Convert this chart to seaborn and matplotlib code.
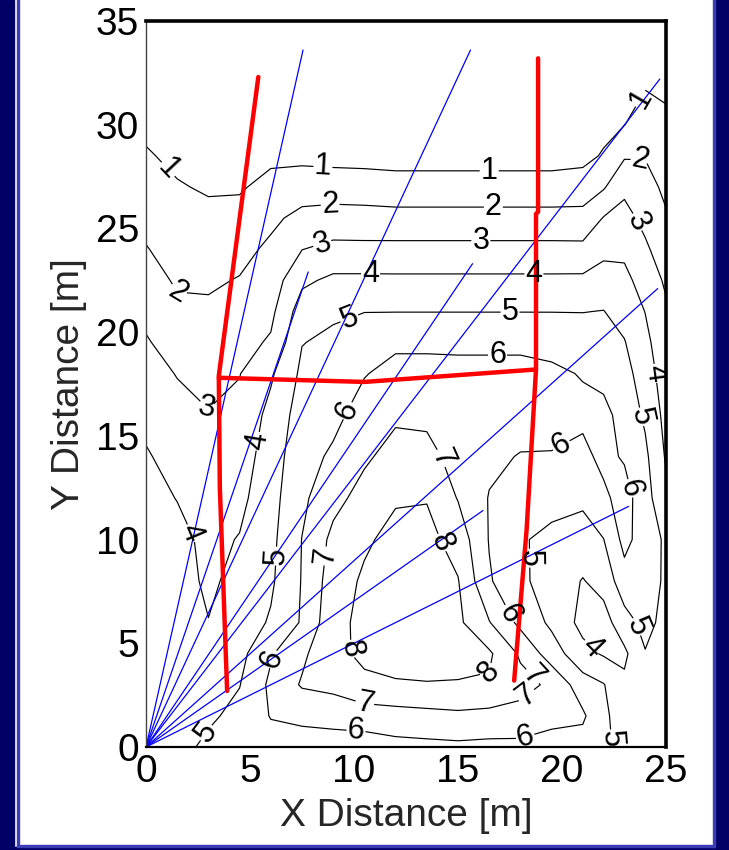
import numpy as np
import pandas as pd
import matplotlib
matplotlib.use('Agg')
import matplotlib.pyplot as plt
import seaborn as sns
from matplotlib.patches import Rectangle

sns.set_style('white')
plt.rcParams['font.family'] = ['Liberation Sans', 'DejaVu Sans']

# ---------------- data ----------------
grid_x = [0, 1.5, 3, 4.5, 6, 7.5, 9, 10.5, 12, 13.5, 15, 16.5, 18, 19.5, 21, 22, 23, 24, 25]
grid_y = [0, 1.5, 3, 4.5, 6, 8, 10, 12, 14, 16, 18, 19.5, 21, 22.5, 24, 25.5, 27, 28.5, 30, 32, 35]

# measured field, one list per x column (bottom -> top)
col_00 = [4.5, 4.5, 4.5, 4.5, 4.5, 4.5, 4.45, 4.35, 4.1, 3.73, 3.36, 3.09, 2.76, 2.4, 2.05, 1.72, 1.4, 1.09, 0.8, 0.6, 0.4]
col_01 = [4.7, 4.55, 4.45, 4.4, 4.4, 4.35, 4.3, 3.97, 3.62, 3.3, 2.96, 2.58, 2.2, 1.88, 1.6, 1.34, 1.07, 0.8, 0.6, 0.45, 0.3]
col_02 = [5.2, 4.85, 4.6, 4.35, 4.02, 3.85, 3.75, 3.5, 3.3, 3.05, 2.7, 2.42, 2.15, 1.87, 1.54, 1.22, 0.9, 0.7, 0.55, 0.4, 0.3]
col_03 = [5.5, 5.25, 4.97, 4.7, 4.5, 4.25, 4.05, 3.75, 3.5, 3.23, 2.97, 2.66, 2.35, 2.05, 1.72, 1.3, 0.9, 0.7, 0.55, 0.4, 0.3]
col_04 = [5.6, 6.05, 6.2, 5.9, 5.1, 4.85, 4.75, 4.65, 4.5, 4.3, 3.85, 3.12, 2.76, 2.47, 2.18, 1.8, 1.29, 0.8, 0.6, 0.45, 0.3]
col_05 = [5.6, 6.2, 7.1, 6.8, 6.1, 6.05, 6.02, 5.8, 5.65, 5.45, 5.2, 4.97, 4.5, 3.8, 2.98, 2.27, 1.53, 0.75, 0.55, 0.4, 0.3]
col_06 = [5.6, 6.3, 7.3, 7.8, 7.7, 7.5, 7.25, 6.7, 6.15, 5.75, 5.4, 5.2, 4.85, 4.2, 3.25, 2.4, 1.5, 0.7, 0.5, 0.35, 0.25]
col_07 = [5.55, 6.45, 7.85, 8.15, 8.25, 8.15, 7.85, 7.35, 6.85, 6.4, 5.95, 5.55, 4.98, 4.2, 3.25, 2.35, 1.5, 0.65, 0.45, 0.35, 0.25]
col_08 = [5.7, 6.6, 7.9, 8.4, 8.5, 8.45, 8.3, 7.9, 7.35, 6.85, 6.3, 5.83, 4.98, 4.19, 3.26, 2.31, 1.43, 0.6, 0.4, 0.3, 0.2]
col_09 = [5.75, 6.7, 7.95, 8.4, 8.5, 8.45, 8.3, 7.95, 7.3, 6.8, 6.3, 5.83, 4.98, 4.19, 3.26, 2.31, 1.43, 0.6, 0.4, 0.3, 0.2]
col_10 = [5.8, 6.8, 7.95, 8.25, 8.2, 8.05, 7.6, 6.95, 6.65, 6.45, 6.25, 5.83, 4.98, 4.19, 3.26, 2.31, 1.43, 0.6, 0.4, 0.3, 0.2]
col_11 = [5.75, 6.7, 7.9, 8.15, 7.05, 6.1, 5.95, 5.95, 6.2, 6.4, 6.25, 5.83, 4.98, 4.19, 3.26, 2.31, 1.43, 0.6, 0.4, 0.3, 0.2]
col_12 = [5.75, 6.65, 7.35, 6.85, 5.75, 5.2, 5.1, 5.35, 5.95, 6.4, 6.25, 5.83, 4.98, 4.19, 3.26, 2.31, 1.43, 0.6, 0.4, 0.3, 0.2]
col_13 = [5.6, 6.3, 6.8, 5.5, 4.8, 4.55, 4.75, 5.35, 5.95, 6.3, 6.15, 5.75, 4.98, 4.19, 3.26, 2.31, 1.43, 0.6, 0.4, 0.3, 0.2]
col_14 = [5.6, 6.15, 5.45, 4.3, 3.7, 3.95, 4.55, 5.2, 5.75, 6.2, 5.95, 5.45, 4.98, 4.2, 3.25, 2.3, 1.5, 0.7, 0.45, 0.3, 0.2]
col_15 = [5.3, 5.2, 5.05, 3.9, 3.6, 4.35, 4.98, 5.8, 6.25, 6.3, 5.7, 5.4, 5.02, 4.5, 3.7, 3.05, 1.9, 1.1, 0.7, 0.45, 0.3]
col_16 = [4.55, 4.5, 4.2, 3.8, 4.6, 5.6, 6.3, 6.4, 5.9, 5.6, 5.35, 5.05, 4.65, 4.25, 3.8, 3.3, 2.8, 1.9, 0.98, 0.6, 0.35]
col_17 = [4.5, 4.5, 4.6, 4.95, 5.3, 5.45, 5.5, 5.4, 5.2, 4.85, 4.5, 4.25, 3.98, 3.6, 3.15, 2.75, 2.35, 1.95, 1.5, 0.9, 0.5]
col_18 = [4.4, 4.4, 4.45, 4.55, 4.7, 4.85, 4.85, 4.2, 3.9, 3.7, 3.5, 3.35, 3.15, 2.85, 2.5, 2.1, 1.8, 1.5, 1.2, 0.8, 0.5]

contour_levels = [1, 2, 3, 4, 5, 6, 7, 8]

# positions of the contour labels
label_x = [0.9, 8.5, 16.5, 23.9,
           1.5, 8.85, 16.7, 23.75,
           2.6, 8.45, 16.1, 23.6,
           2.6, 5.6, 10.8, 18.65, 24.4, 21.2,
           6.3, 9.8, 17.5, 23.75, 23.3, 18.1, 3.3, 22.45,
           9.8, 16.9, 6.2, 20.1, 23.0, 17.5, 10.1, 18.2,
           8.7, 14.0, 18.8, 18.6, 10.5,
           14.0, 9.4, 16.8]
label_y = [27.7, 27.85, 27.7, 31.2,
           21.8, 26.2, 25.9, 28.4,
           16.0, 24.35, 24.3, 25.3,
           10.5, 14.7, 22.85, 22.85, 18.0, 4.6,
           9.2, 20.6, 21.0, 15.9, 5.7, 9.1, 0.4, 0.4,
           16.15, 19.0, 4.2, 14.3, 12.4, 6.45, 0.8, 0.6,
           9.2, 13.85, 3.6, 2.1, 1.9,
           9.75, 4.7, 3.5]

# blue rays from the origin (end points)
ray_end_x = [7.55, 7.8, 15.6, 15.7, 24.7, 24.6, 16.2, 23.2]
ray_end_y = [33.6, 22.9, 33.6, 23.3, 32.2, 22.1, 11.4, 11.6]

# red lines
red_left_x = [5.4, 3.5, 3.55, 3.9]
red_left_y = [32.3, 17.9, 12.5, 2.7]
red_mid_x = [3.5, 10.5, 18.75]
red_mid_y = [17.8, 17.6, 18.2]
red_right_x = [18.85, 18.85, 18.75, 18.75, 18.3, 17.7]
red_right_y = [33.2, 25.8, 25.7, 18.2, 10.5, 3.2]

x_ticks = [0, 5, 10, 15, 20, 25]
y_ticks = [0, 5, 10, 15, 20, 25, 30, 35]

# ---------------- figure ----------------
W, H = 729, 850
fig = plt.figure(figsize=(W / 100, H / 100), dpi=100)
ax = fig.add_axes([146 / W, 1 - 747 / H, 520 / W, 726 / H])

Z = np.array([col_00, col_01, col_02, col_03, col_04, col_05, col_06, col_07, col_08, col_09,
              col_10, col_11, col_12, col_13, col_14, col_15, col_16, col_17, col_18]).T
cs = ax.contour(grid_x, grid_y, Z, levels=contour_levels, colors='black', linewidths=0.85)
ax.clabel(cs, inline=True, inline_spacing=1, fontsize=22, fmt='%d',
          manual=list(zip(label_x, label_y)))

rays = []
for i, (ex, ey) in enumerate(zip(ray_end_x, ray_end_y)):
    rays.append({'ray': i, 'x': 0.0, 'y': 0.0})
    rays.append({'ray': i, 'x': ex, 'y': ey})
ray_df = pd.DataFrame(rays)
sns.lineplot(data=ray_df, x='x', y='y', units='ray', estimator=None, sort=False,
             color='#0000ff', linewidth=0.9, ax=ax, legend=False)

red_rows = []
for name, xs, ys in [('left', red_left_x, red_left_y), ('mid', red_mid_x, red_mid_y),
                     ('right', red_right_x, red_right_y)]:
    for k, (px, py) in enumerate(zip(xs, ys)):
        red_rows.append({'seg': name, 'order': k, 'x': px, 'y': py})
red_df = pd.DataFrame(red_rows)
sns.lineplot(data=red_df, x='x', y='y', units='seg', estimator=None, sort=False,
             color='#ff0000', linewidth=3.2, ax=ax, legend=False)

ax.set_xlim(0, 25)
ax.set_ylim(0, 35)
ax.set_xticks(x_ticks)
ax.set_yticks(y_ticks)
ax.tick_params(direction='in', length=6, width=1, labelsize=28, top=False, right=False,
               pad=5, colors='black')
ax.set_xlabel('X Distance [m]', fontsize=28, labelpad=6)
ax.set_ylabel('Y Distance [m]', fontsize=28, labelpad=6)
for s in ['top', 'right']:
    ax.spines[s].set_linewidth(2.6)
    ax.spines[s].set_color('black')
ax.spines['left'].set_linewidth(1.0)
ax.spines['left'].set_color('#444444')
ax.spines['bottom'].set_linewidth(1.6)
ax.spines['bottom'].set_color('black')

# slide frame
navy = '#000066'
frame_blue = '#3c3cb4'
fig.patches.append(Rectangle((0, 0), 14 / W, 1, transform=fig.transFigure, color=navy, zorder=10))
fig.patches.append(Rectangle((16.5 / W, 3 / H), 2.5 / W, 1, transform=fig.transFigure, color=frame_blue, zorder=10))
fig.patches.append(Rectangle((0, 0), 1, 3 / H, transform=fig.transFigure, color=navy, zorder=10))
fig.patches.append(Rectangle((16.5 / W, 3 / H), 1, 2 / H, transform=fig.transFigure, color=frame_blue, zorder=10))
fig.patches.append(Rectangle((716 / W, 0), 13 / W, 1, transform=fig.transFigure, color=navy, zorder=10))
fig.patches.append(Rectangle((713 / W, 3 / H), 2 / W, 1, transform=fig.transFigure, color=frame_blue, zorder=10))

fig.savefig('out.png', dpi=100)
